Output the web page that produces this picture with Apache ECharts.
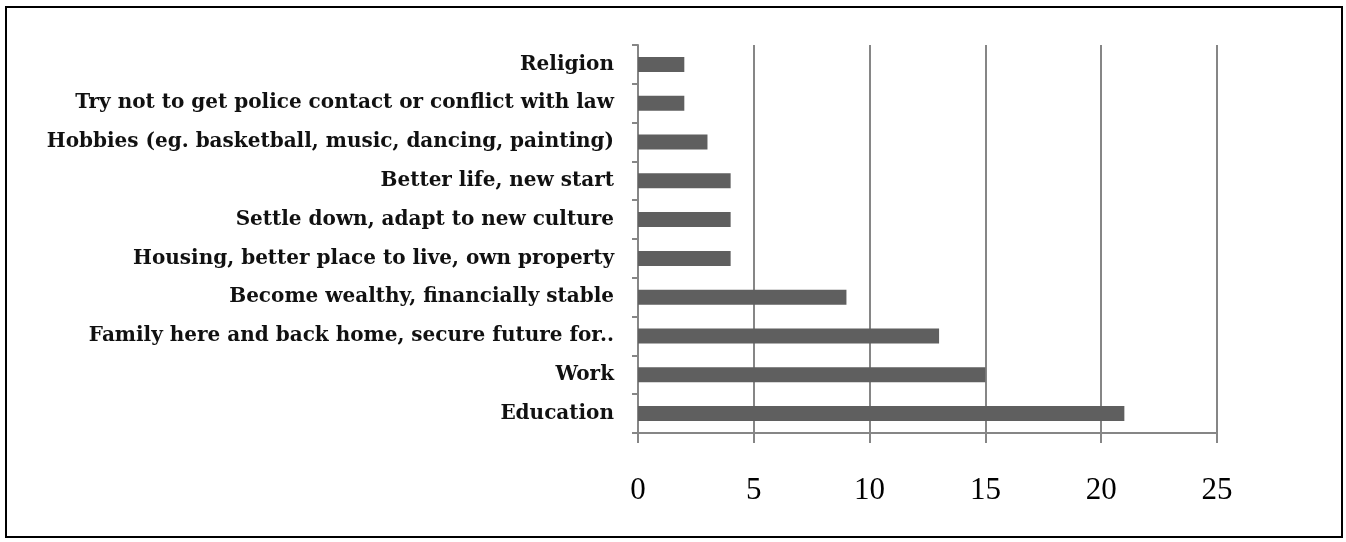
<!DOCTYPE html>
<html>
<head>
<meta charset="utf-8">
<script src="https://cdn.jsdelivr.net/npm/echarts@6/dist/echarts.min.js"></script>
<style>
  html, body { margin: 0; padding: 0; background: #fff; }
  #main { width: 1346px; height: 542px; }
</style>
</head>
<body>
<div id="main"></div>
<script>
// categories listed bottom to top
var categories = [
	'Education',
	'Work',
	'Family here and back home, secure future for..',
	'Become wealthy, financially stable',
	'Housing, better place to live, own property',
	'Settle down, adapt to new culture',
	'Better life, new start',
	'Hobbies (eg. basketball, music, dancing, painting)',
	'Try not to get police contact or conflict with law',
	'Religion'
];
var counts = [21, 15, 13, 9, 4, 4, 4, 3, 2, 2];
var xTicks = { min: 0, max: 25, step: 5 };

(function(){
	var myChart = echarts.init(document.getElementById('main'));
	var serif = '"Liberation Serif", "DejaVu Serif", serif';
	var option = {
		animation: false,
		textStyle: { fontFamily: serif },
		grid: { left: 638, right: 129, top: 45, bottom: 109 },
		// outer frame
		graphic: [{
			type: 'rect',
			shape: { x: 6, y: 7, width: 1336, height: 530 },
			style: { fill: 'none', stroke: '#000', lineWidth: 2 },
			silent: true
		}],
		xAxis: {
			type: 'value',
			min: xTicks.min,
			max: xTicks.max,
			interval: xTicks.step,
			axisLine: { show: true, lineStyle: { color: '#868686', width: 2 } },
			axisTick: { show: true, length: 10, lineStyle: { color: '#868686', width: 2 } },
			splitLine: { show: true, lineStyle: { color: '#868686', width: 2 } },
			axisLabel: { color: '#000', fontSize: 31, margin: 42, fontFamily: serif }
		},
		yAxis: {
			type: 'category',
			data: categories,
			axisLine: { show: true, lineStyle: { color: '#868686', width: 2 } },
			axisTick: { show: true, length: 6, lineStyle: { color: '#868686', width: 2 } },
			axisLabel: { color: '#111', fontSize: 20, fontWeight: 'bold', margin: 24, fontFamily: '"DejaVu Serif", serif' }
		},
		series: [{
			type: 'bar',
			data: counts,
			barWidth: 15,
			itemStyle: { color: '#5f5f5f' }
		}]
	};
	myChart.setOption(option);
})();
</script>
</body>
</html>
